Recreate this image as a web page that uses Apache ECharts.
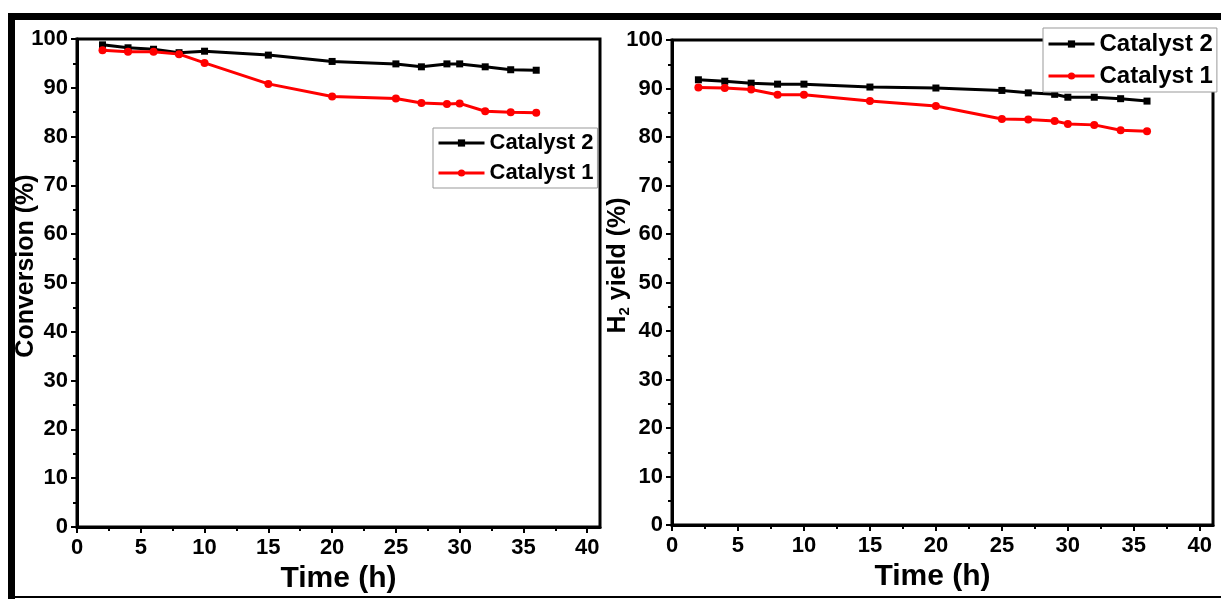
<!DOCTYPE html>
<html>
<head>
<meta charset="utf-8">
<script src="https://cdn.jsdelivr.net/npm/echarts@6/dist/echarts.min.js"></script>
<style>
html,body{margin:0;padding:0;background:#fff;}
#c{width:1221px;height:599px;}
</style>
</head>
<body>
<div id="c"></div>
<script>
const timeH = [2, 4, 6, 8, 10, 15, 20, 25, 27, 29, 30, 32, 34, 36];
const convCat2 = [98.8, 98.2, 97.9, 97.2, 97.5, 96.7, 95.4, 94.9, 94.3, 94.9, 94.9, 94.3, 93.7, 93.6];
const convCat1 = [97.7, 97.4, 97.4, 96.9, 95.1, 90.8, 88.2, 87.8, 86.9, 86.7, 86.8, 85.2, 85.0, 84.9];
const yieldCat2 = [91.8, 91.5, 91.1, 90.9, 90.9, 90.3, 90.1, 89.6, 89.1, 88.8, 88.2, 88.2, 87.9, 87.4];
const yieldCat1 = [90.2, 90.1, 89.8, 88.7, 88.7, 87.4, 86.4, 83.7, 83.6, 83.3, 82.7, 82.5, 81.4, 81.2];
const xTicks = [0, 5, 10, 15, 20, 25, 30, 35, 40];
const xMinorTicks = [2.5, 7.5, 12.5, 17.5, 22.5, 27.5, 32.5, 37.5];
const yTicks = [0, 10, 20, 30, 40, 50, 60, 70, 80, 90, 100];
const seriesNames = ['Catalyst 2', 'Catalyst 1'];
const xName = 'Time (h)';
const yNameLeft = 'Conversion (%)';
const yNameRight = 'H{sub|2} yield (%)';

const FF = '"Liberation Sans", Arial, sans-serif';
const chart = echarts.init(document.getElementById('c'));
const pair = (xs, ys) => xs.map((x, i) => [x, ys[i]]);

function xAxes(gi, namePad) {
  return [
    {
      type: 'value', gridIndex: gi, min: 0, max: 41, position: 'bottom',
      name: xName, nameLocation: 'middle', nameGap: 37, nameMoveOverlap: false,
      nameTextStyle: {fontFamily: FF, fontWeight: 'bold', fontSize: 30, color: '#000', padding: namePad},
      axisLine: {show: true, lineStyle: {color: '#000', width: 3}},
      axisTick: {show: true, inside: false, length: 6, lineStyle: {color: '#000', width: 2}, customValues: xTicks},
      axisLabel: {fontFamily: FF, fontWeight: 'bold', fontSize: 22, color: '#000', margin: 10, customValues: xTicks},
      splitLine: {show: false}
    },
    {
      type: 'value', gridIndex: gi, min: 0, max: 41, position: 'bottom',
      axisLine: {show: false},
      axisTick: {show: true, inside: false, length: 4, lineStyle: {color: '#000', width: 2}, customValues: xMinorTicks},
      axisLabel: {show: false, customValues: xMinorTicks},
      splitLine: {show: false}
    }
  ];
}
function yAxis(gi, name, gap) {
  return {
    type: 'value', gridIndex: gi, min: 0, max: 100, interval: 10,
    name: name, nameLocation: 'middle', nameGap: gap, nameRotate: 90, nameMoveOverlap: false,
    nameTextStyle: {fontFamily: FF, fontWeight: 'bold', fontSize: 25, color: '#000', padding: [0, 0, 0, 34],
      rich: {sub: {fontFamily: FF, fontWeight: 'bold', fontSize: 15, color: '#000', verticalAlign: 'bottom', padding: [12, 0, 0, 0]}}},
    axisLine: {show: true, lineStyle: {color: '#000', width: 3}},
    axisTick: {show: true, inside: false, length: 6, lineStyle: {color: '#000', width: 2}},
    minorTick: {show: true, splitNumber: 2, length: 4, lineStyle: {color: '#000', width: 2}},
    axisLabel: {fontFamily: FF, fontWeight: 'bold', fontSize: 22, color: '#000', margin: 9, customValues: yTicks},
    splitLine: {show: false}
  };
}
function ser(name, xi, yi, xs, ys, color, symbol, size) {
  return {
    name: name, type: 'line', xAxisIndex: xi, yAxisIndex: yi,
    data: pair(xs, ys), symbol: symbol, symbolSize: size,
    lineStyle: {color: color, width: 3}, itemStyle: {color: color},
    emphasis: {disabled: true}, animation: false
  };
}
function legend(left, top, fs) {
  return {
    data: seriesNames, left: left, top: top, orient: 'vertical',
    backgroundColor: '#fff', borderColor: '#999', borderWidth: 1,
    padding: [4, 4, 4, 4], itemGap: 8, itemWidth: 46, itemHeight: 9,
    lineStyle: {width: 3},
    textStyle: {fontFamily: FF, fontWeight: 'bold', fontSize: fs, color: '#000'}
  };
}

chart.setOption({
  animation: false,
  backgroundColor: '#fff',
  grid: [
    {left: 77, top: 39, width: 523, height: 488, show: true, borderColor: '#000', borderWidth: 3, backgroundColor: 'transparent'},
    {left: 672, top: 40, width: 541, height: 485, show: true, borderColor: '#000', borderWidth: 3, backgroundColor: 'transparent'}
  ],
  xAxis: [...xAxes(0, [0, 0, 0, 0]), ...xAxes(1, [0, 20, 0, 0])],
  yAxis: [yAxis(0, yNameLeft, 38), yAxis(1, yNameRight, 40)],
  legend: [legend(433, 128, 22), legend(1043, 28, 24)],
  series: [
    ser(seriesNames[0], 0, 0, timeH, convCat2, '#000', 'rect', 7),
    ser(seriesNames[1], 0, 0, timeH, convCat1, '#ff0000', 'circle', 8),
    ser(seriesNames[0], 2, 1, timeH, yieldCat2, '#000', 'rect', 7),
    ser(seriesNames[1], 2, 1, timeH, yieldCat1, '#ff0000', 'circle', 8)
  ],
  graphic: [
    {type: 'rect', left: 8, top: 13, shape: {width: 1213, height: 7}, style: {fill: '#000'}, z: 100},
    {type: 'rect', left: 8, top: 13, shape: {width: 7, height: 586}, style: {fill: '#000'}, z: 100},
    {type: 'rect', left: 15, top: 596, shape: {width: 1206, height: 2}, style: {fill: '#000'}, z: 100}
  ]
});
</script>
</body>
</html>
